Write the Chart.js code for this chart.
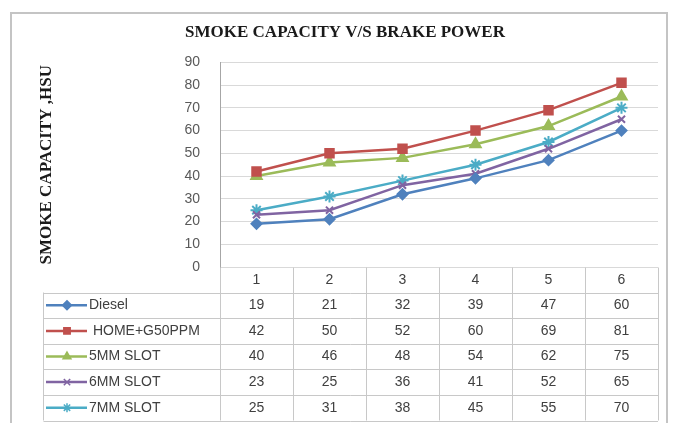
<!DOCTYPE html>
<html>
<head>
<meta charset="utf-8">
<script src="https://cdn.jsdelivr.net/npm/chart.js@4.4.1/dist/chart.umd.min.js"></script>
<style>
  body { margin: 0; background: #fff; }
</style>
</head>
<body>
<canvas id="graficoFumaca" width="678" height="423"></canvas>
<script>
const categorias = ['1', '2', '3', '4', '5', '6'];
const diesel = [19, 21, 32, 39, 47, 60];
const homeG50 = [42, 50, 52, 60, 69, 81];
const slot5mm = [40, 46, 48, 54, 62, 75];
const slot6mm = [23, 25, 36, 41, 52, 65];
const slot7mm = [25, 31, 38, 45, 55, 70];
const nomes = ['Diesel', ' HOME+G50PPM', '5MM SLOT', '6MM SLOT', '7MM SLOT'];

const series = [diesel, homeG50, slot5mm, slot6mm, slot7mm];
const cores = ['#4f81bd', '#c0504d', '#9bbb59', '#8064a2', '#4bacc6'];
const marcadores = ['rectRot', 'rect', 'triangle', 'crossRot', 'star'];
const raios = [5, 6, 6, 5, 6];

const fonteTexto = { family: 'Liberation Sans', size: 14 };

function linha(ctx, x1, y1, x2, y2) {
  ctx.beginPath();
  ctx.moveTo(x1, y1);
  ctx.lineTo(x2, y2);
  ctx.stroke();
}

// moldura externa
const moldura = {
  id: 'moldura',
  beforeDraw(chart) {
    const ctx = chart.ctx;
    ctx.save();
    ctx.fillStyle = '#fff';
    ctx.fillRect(0, 0, chart.width, chart.height);
    ctx.strokeStyle = '#c4c4c4';
    ctx.lineWidth = 2;
    ctx.strokeRect(11, 13, 656, 420);
    ctx.restore();
  }
};

// tabela de dados embaixo do gráfico
const tabela = {
  id: 'tabela',
  afterDraw(chart) {
    const { ctx, chartArea, scales: { x } } = chart;
    const esq = 43.5;
    const topo = Math.round(chartArea.bottom) + 0.5;
    const cab = 25;
    const alt = 25.6;
    const n = categorias.length;
    const meia = (x.getPixelForValue(1) - x.getPixelForValue(0)) / 2;
    const fundo = topo + cab + alt * series.length;

    ctx.save();
    ctx.strokeStyle = '#c8c8c8';
    ctx.lineWidth = 1;
    for (let i = 0; i <= n; i++) {
      const px = Math.round(i < n ? x.getPixelForValue(i) - meia : x.getPixelForValue(n - 1) + meia) + 0.5;
      linha(ctx, px, topo, px, fundo);
    }
    for (let r = 0; r <= series.length; r++) {
      const py = Math.round(topo + cab + r * alt) + 0.5;
      linha(ctx, esq, py, chartArea.right, py);
    }
    linha(ctx, esq, topo + cab, esq, fundo);

    ctx.font = `${fonteTexto.size}px ${fonteTexto.family}`;
    ctx.fillStyle = '#404040';
    ctx.textBaseline = 'middle';
    ctx.textAlign = 'center';
    categorias.forEach((c, i) => ctx.fillText(c, x.getPixelForValue(i), topo + cab / 2));

    series.forEach((dados, r) => {
      const cy = topo + cab + alt * r + alt / 2;
      ctx.textAlign = 'center';
      ctx.fillStyle = '#404040';
      dados.forEach((v, i) => ctx.fillText(String(v), x.getPixelForValue(i), cy));

      // chave da legenda
      ctx.strokeStyle = cores[r];
      ctx.fillStyle = cores[r];
      ctx.lineWidth = 2.5;
      linha(ctx, 46, cy, 87, cy);
      ctx.lineWidth = 1.5;
      Chart.helpers.drawPoint(ctx, { pointStyle: marcadores[r], radius: 4.5, rotation: 0, borderWidth: 1.5 }, 67, cy);
      ctx.strokeStyle = '#c8c8c8';
      ctx.lineWidth = 1;

      ctx.textAlign = 'left';
      ctx.fillStyle = '#404040';
      ctx.fillText(nomes[r], 89, cy);
    });
    ctx.restore();
  }
};

new Chart(document.getElementById('graficoFumaca'), {
  type: 'line',
  data: {
    labels: categorias,
    datasets: series.map((dados, i) => ({
      label: nomes[i].trim(),
      data: dados,
      borderColor: cores[i],
      backgroundColor: cores[i],
      borderWidth: 2.5,
      pointStyle: marcadores[i],
      pointRadius: raios[i],
      pointBorderWidth: 2,
      tension: 0
    }))
  },
  options: {
    responsive: false,
    animation: false,
    layout: {
      padding: { left: 32, right: 20, top: 0, bottom: 156 }
    },
    plugins: {
      legend: { display: false },
      tooltip: { enabled: false },
      title: {
        display: true,
        text: 'SMOKE CAPACITY V/S BRAKE POWER',
        color: '#1a1a1a',
        font: { family: 'Liberation Serif', size: 17, weight: 'bold' },
        padding: { top: 22, bottom: 20 }
      }
    },
    scales: {
      x: {
        display: false,
        offset: true
      },
      y: {
        min: 0,
        max: 90,
        ticks: { stepSize: 10, padding: 20, color: '#595959', font: fonteTexto },
        grid: { color: '#d9d9d9', drawTicks: false },
        border: { color: '#a6a6a6' },
        title: {
          display: true,
          text: 'SMOKE CAPACITY ,HSU',
          color: '#1a1a1a',
          font: { family: 'Liberation Serif', size: 17, weight: 'bold' },
          padding: { top: 4, bottom: 0 }
        },
        afterFit(scale) { scale.width = 188; }
      }
    }
  },
  plugins: [moldura, tabela]
});
</script>
</body>
</html>
